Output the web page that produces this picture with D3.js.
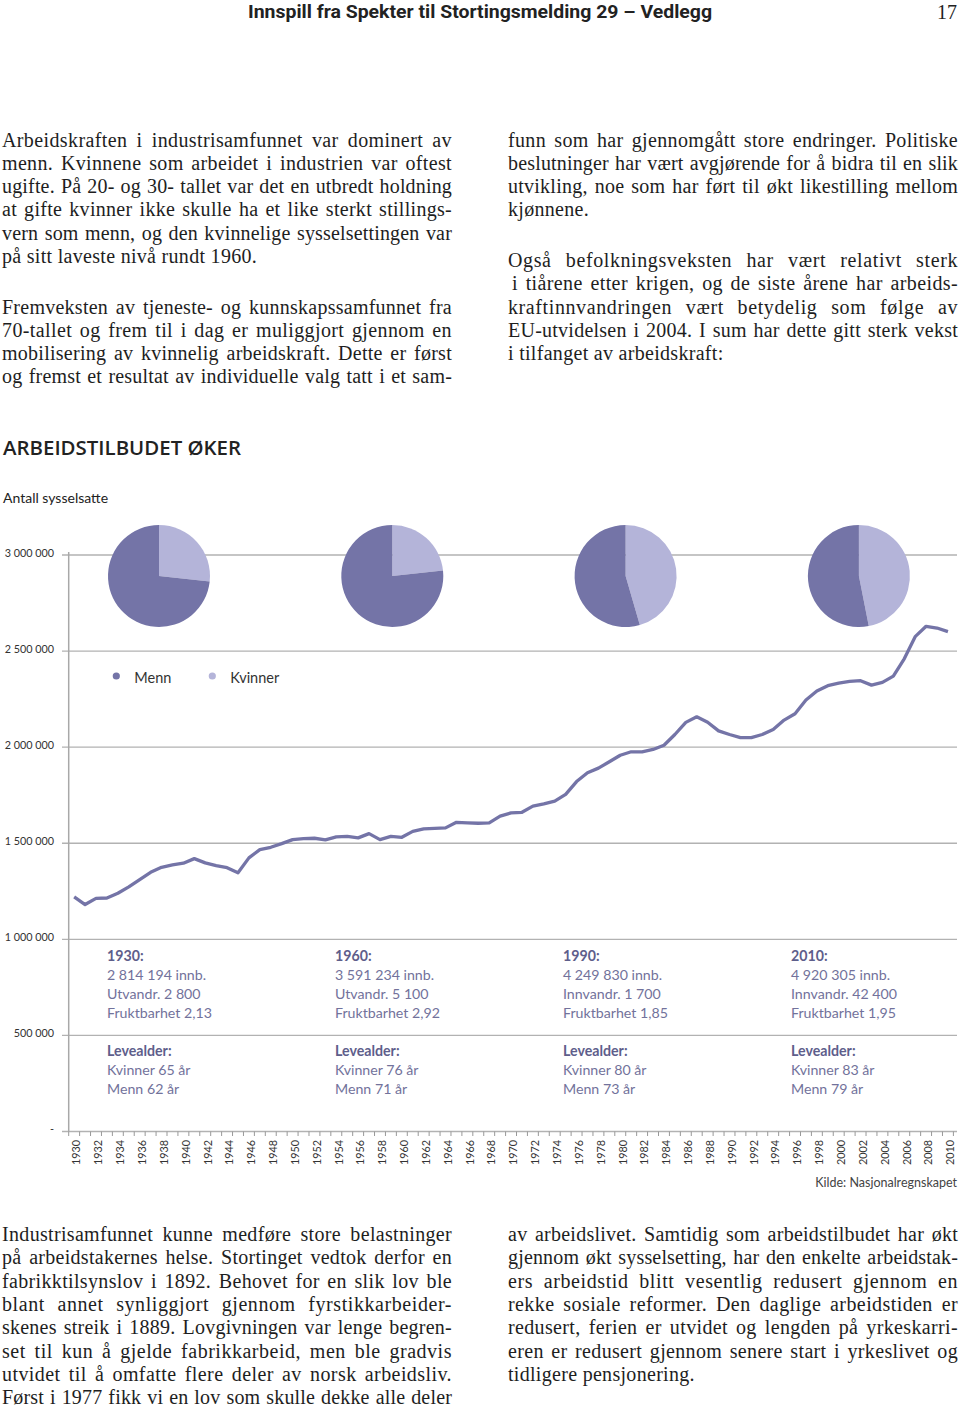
<!DOCTYPE html>
<html><head><meta charset="utf-8">
<script src="https://cdn.jsdelivr.net/npm/d3@7"></script>
<style>
body{margin:0;background:#fff}
svg{display:block}
</style>
</head><body>
<svg id="c" width="960" height="1410"></svg>
<script>
// ---------- DATA ----------
const years = [1930,1931,1932,1933,1934,1935,1936,1937,1938,1939,1940,1941,1942,1943,1944,1945,1946,1947,1948,1949,
1950,1951,1952,1953,1954,1955,1956,1957,1958,1959,1960,1961,1962,1963,1964,1965,1966,1967,1968,1969,
1970,1971,1972,1973,1974,1975,1976,1977,1978,1979,1980,1981,1982,1983,1984,1985,1986,1987,1988,1989,
1990,1991,1992,1993,1994,1995,1996,1997,1998,1999,2000,2001,2002,2003,2004,2005,2006,2007,2008,2009,2010];
const employed = [1221000,1181000,1213000,1215000,1240000,1273000,1311000,1349000,1375000,1387000,
1396000,1420000,1398000,1384000,1373000,1346000,1424000,1467000,1479000,1498000,
1519000,1524000,1526000,1518000,1533000,1536000,1528000,1550000,1519000,1536000,
1531000,1562000,1575000,1577000,1580000,1609000,1606000,1604000,1606000,1641000,
1658000,1661000,1693000,1705000,1719000,1754000,1821000,1867000,1891000,1924000,
1958000,1976000,1976000,1988000,2010000,2066000,2129000,2158000,2130000,2085000,
2066000,2050000,2050000,2066000,2092000,2141000,2174000,2245000,2292000,2320000,
2333000,2342000,2346000,2323000,2337000,2370000,2460000,2575000,2629000,2620000,2601000];
const yTicks = [0,500000,1000000,1500000,2000000,2500000,3000000];
const xLabelYears = years.filter((d,i)=>i%2===0);

const pieYears = [1930,1960,1990,2010];
const kvinnerShare = [0.267,0.233,0.455,0.469];
const mennShare = [0.733,0.767,0.545,0.531];
const legendLabels = ["Menn","Kvinner"];

const annYears = ["1930:","1960:","1990:","2010:"];
const annInnb = ["2 814 194 innb.","3 591 234 innb.","4 249 830 innb.","4 920 305 innb."];
const annMigr = ["Utvandr. 2 800","Utvandr. 5 100","Innvandr. 1 700","Innvandr. 42 400"];
const annFert = ["Fruktbarhet 2,13","Fruktbarhet 2,92","Fruktbarhet 1,85","Fruktbarhet 1,95"];
const annLifeF = ["Kvinner 65 år","Kvinner 76 år","Kvinner 80 år","Kvinner 83 år"];
const annLifeM = ["Menn 62 år","Menn 71 år","Menn 73 år","Menn 79 år"];

const headerText = "Innspill fra Spekter til Stortingsmelding 29 – Vedlegg";
const pageNo = "17";
const chartTitle = "ARBEIDSTILBUDET ØKER";
const yTitle = "Antall sysselsatte";
const source = "Kilde: Nasjonalregnskapet";

// body text: [text, justified, indent]
const topLeftA = [
 ["Arbeidskraften i industrisamfunnet var dominert av",1],
 ["menn. Kvinnene som arbeidet i industrien var oftest",1],
 ["ugifte. På 20- og 30- tallet var det en utbredt holdning",1],
 ["at gifte kvinner ikke skulle ha et like sterkt stillings-",1],
 ["vern som menn, og den kvinnelige sysselsettingen var",1],
 ["på sitt laveste nivå rundt 1960.",0]];
const topLeftB = [
 ["Fremveksten av tjeneste- og kunnskapssamfunnet fra",1],
 ["70-tallet og frem til i dag er muliggjort gjennom en",1],
 ["mobilisering av kvinnelig arbeidskraft. Dette er først",1],
 ["og fremst et resultat av individuelle valg tatt i et sam-",1]];
const topRightA = [
 ["funn som har gjennomgått store endringer. Politiske",1],
 ["beslutninger har vært avgjørende for å bidra til en slik",1],
 ["utvikling, noe som har ført til økt likestilling mellom",1],
 ["kjønnene.",0]];
const topRightB = [
 ["Også befolkningsveksten har vært relativt sterk",1],
 ["i tiårene etter krigen, og de siste årene har arbeids-",1,4],
 ["kraftinnvandringen vært betydelig som følge av",1],
 ["EU-utvidelsen i 2004. I sum har dette gitt sterk vekst",1],
 ["i tilfanget av arbeidskraft:",0]];
const botLeft = [
 ["Industrisamfunnet kunne medføre store belastninger",1],
 ["på arbeidstakernes helse. Stortinget vedtok derfor en",1],
 ["fabrikktilsynslov i 1892. Behovet for en slik lov ble",1],
 ["blant annet synliggjort gjennom fyrstikkarbeider-",1],
 ["skenes streik i 1889. Lovgivningen var lenge begren-",1],
 ["set til kun å gjelde fabrikkarbeid, men ble gradvis",1],
 ["utvidet til å omfatte flere deler av norsk arbeidsliv.",1],
 ["Først i 1977 fikk vi en lov som skulle dekke alle deler",1]];
const botRight = [
 ["av arbeidslivet. Samtidig som arbeidstilbudet har økt",1],
 ["gjennom økt sysselsetting, har den enkelte arbeidstak-",1],
 ["ers arbeidstid blitt vesentlig redusert gjennom en",1],
 ["rekke sosiale reformer. Den daglige arbeidstiden er",1],
 ["redusert, ferien er utvidet og lengden på yrkeskarri-",1],
 ["eren er redusert gjennom senere start i yrkeslivet og",1],
 ["tidligere pensjonering.",0]];

// ---------- DRAW ----------
const svg = d3.select("#c");
const DARK = "#7474a7", LIGHT = "#b4b4d9";
const SANS = "Lato, 'Open Sans', sans-serif";
const SERIF = "'Liberation Serif', 'DejaVu Serif', serif";

// header
svg.append("text").attr("x",248).attr("y",18).attr("font-family","Roboto, sans-serif")
  .attr("font-weight",700).attr("font-size",18.5).attr("fill","#222")
  .attr("textLength",464).attr("lengthAdjust","spacingAndGlyphs").text(headerText);
svg.append("text").attr("x",957).attr("y",19).attr("text-anchor","end")
  .attr("font-family",SERIF).attr("font-size",20).attr("fill","#222").text(pageNo);

// body text
function para(lines, x0, width, y0, lh){
  lines.forEach((l,i)=>{
    const ind = l[2]||0;
    const t = svg.append("text").attr("x",x0+ind).attr("y",y0+i*lh)
      .attr("font-family",SERIF).attr("font-size",20).attr("fill","#1e1e1e").text(l[0]);
    const nChars = l[0].length;
    if(l[1]){
      const w = width - ind;
      const nat = t.node().getComputedTextLength();
      let ls = (w-nat)*0.5/nChars;
      ls = Math.max(-0.3, Math.min(0.6, ls));
      t.style("letter-spacing", ls+"px");
      const nat2 = t.node().getComputedTextLength();
      const n = (l[0].match(/ /g)||[]).length;
      if(n>0) t.style("word-spacing", (w-nat2)/n + "px");
    } else {
      t.style("letter-spacing","0.3px");
    }
  });
}
const LH = 23.3;
para(topLeftA, 2, 450, 146.5, LH);
para(topLeftB, 2, 450, 313.5, LH);
para(topRightA, 508, 450, 146.5, LH);
para(topRightB, 508, 450, 267, LH);
para(botLeft, 2, 450, 1241, LH);
para(botRight, 508, 450, 1241, LH);

// chart title
svg.append("text").attr("x",3).attr("y",455).attr("font-family","'Open Sans', sans-serif")
  .attr("font-weight",600).attr("font-size",20).attr("fill","#222")
  .attr("textLength",238).attr("lengthAdjust","spacingAndGlyphs").text(chartTitle);
svg.append("text").attr("x",3).attr("y",503).attr("font-family",SANS)
  .attr("font-size",14).attr("fill","#222").text(yTitle);

// scales
const x = d3.scaleBand().domain(years).range([68.7, 953.4]).paddingInner(0).paddingOuter(0);
const y = d3.scaleLinear().domain([0,3000000]).range([1131.5, 555]);
const fmt = v => v===0 ? "-" : d3.format(",")(v).replace(/,/g," ");

// gridlines
svg.append("g").selectAll("line").data(yTicks).join("line")
  .attr("x1",62).attr("x2",957).attr("y1",d=>y(d)).attr("y2",d=>y(d))
  .attr("stroke","#b2b2b2").attr("stroke-width",1.4);
// y labels
svg.append("g").selectAll("text").data(yTicks).join("text")
  .attr("x",54).attr("y",d=>y(d)).attr("dy","0.15em").attr("text-anchor","end")
  .attr("font-family",SANS).attr("font-size",10.8).attr("fill","#333").text(fmt);
// y axis line
svg.append("line").attr("x1",68.7).attr("x2",68.7).attr("y1",552).attr("y2",y(0))
  .attr("stroke","#a8a8a8").attr("stroke-width",1.5);
// x axis ticks at band boundaries
const bounds = years.map(d=>x(d)).concat([x(years[years.length-1])+x.bandwidth()]);
svg.append("g").selectAll("line").data(bounds).join("line")
  .attr("x1",d=>d).attr("x2",d=>d).attr("y1",y(0)).attr("y2",y(0)+4.5)
  .attr("stroke","#999").attr("stroke-width",1);
// x labels
svg.append("g").selectAll("text").data(xLabelYears).join("text")
  .attr("transform",d=>`translate(${x(d)+x.bandwidth()/2+2.5},1140) rotate(-90)`)
  .attr("dy","0.35em").attr("text-anchor","end")
  .attr("font-family",SANS).attr("font-size",10.8).attr("fill","#333").text(d=>d);

// line
const line = d3.line().x((d,i)=>x(years[i])+x.bandwidth()/2).y(d=>y(d));
svg.append("path").datum(employed).attr("d",line).attr("fill","none")
  .attr("stroke",DARK).attr("stroke-width",3.3).attr("stroke-linejoin","round");

// pies
const pie = d3.pie().sort(null);
const arc = d3.arc().innerRadius(0).outerRadius(51);
pieYears.forEach((yr,i)=>{
  const g = svg.append("g").attr("transform",`translate(${159+233.3*i},576)`);
  g.selectAll("path").data(pie([kvinnerShare[i], mennShare[i]])).join("path")
    .attr("d",arc).attr("fill",(d,j)=>j===0?LIGHT:DARK);
});

// legend
legendLabels.forEach((lab,i)=>{
  const lx = 116.3 + 96*i;
  svg.append("circle").attr("cx",lx).attr("cy",676).attr("r",3.6).attr("fill",i===0?DARK:LIGHT);
  svg.append("text").attr("x",lx+18).attr("y",683).attr("font-family",SANS)
    .attr("font-size",14.5).attr("fill","#333").text(lab);
});

// annotations
const ANN = "#72729b", ANNB = "#5e5e8b";
annYears.forEach((lab,i)=>{
  const ax = 107 + 228*i;
  const g = svg.append("g").attr("font-family",SANS).attr("font-size",14.2);
  g.append("text").attr("x",ax).attr("y",960.5).attr("font-weight",700).attr("fill",ANNB).text(lab);
  g.append("text").attr("x",ax).attr("y",979.5).attr("fill",ANN).text(annInnb[i]);
  g.append("text").attr("x",ax).attr("y",998.5).attr("fill",ANN).text(annMigr[i]);
  g.append("text").attr("x",ax).attr("y",1017.5).attr("fill",ANN).text(annFert[i]);
  g.append("text").attr("x",ax).attr("y",1056).attr("font-weight",700).attr("fill",ANNB).text("Levealder:");
  g.append("text").attr("x",ax).attr("y",1075).attr("fill",ANN).text(annLifeF[i]);
  g.append("text").attr("x",ax).attr("y",1094).attr("fill",ANN).text(annLifeM[i]);
});

// source
svg.append("text").attr("x",957).attr("y",1187).attr("text-anchor","end")
  .attr("font-family",SANS).attr("font-size",12.5).attr("fill","#444").text(source);
</script>
</body></html>
